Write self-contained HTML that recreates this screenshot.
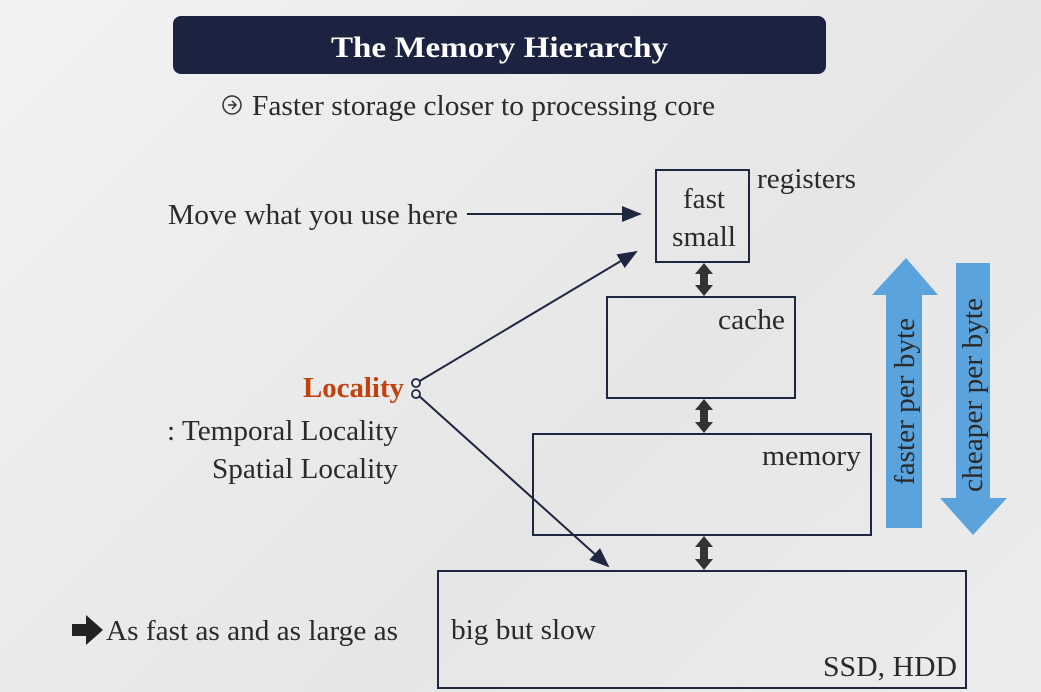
<!DOCTYPE html>
<html><head><style>
body{margin:0;width:1041px;height:692px;overflow:hidden;background:linear-gradient(135deg,#f2f2f2,#e6e6e6 60%,#ececec);}
svg{display:block}
text{font-family:"Liberation Serif","Times New Roman","DejaVu Serif",serif;fill:#2a2a2a}
</style></head><body>
<svg width="1041" height="692" viewBox="0 0 1041 692">
<defs>
<marker id="ah2" markerWidth="20" markerHeight="16" refX="18" refY="8" orient="auto" markerUnits="userSpaceOnUse" viewBox="0 0 20 16"><path d="M0,0 L20,8 L0,16 z" fill="#1e2640"/></marker>
</defs>
<rect x="173" y="16" width="653" height="58" rx="8" fill="#1c2340"/>
<text x="331" y="57" font-size="30" font-weight="bold" textLength="337" lengthAdjust="spacingAndGlyphs" style="fill:#fff">The Memory Hierarchy</text>
<circle cx="232" cy="105" r="9" fill="none" stroke="#333" stroke-width="1.5"/>
<path d="M228,105 h7 M232,101 l4,4 l-4,4" fill="none" stroke="#333" stroke-width="1.5"/>
<text x="252" y="115" font-size="28" textLength="463" lengthAdjust="spacingAndGlyphs">Faster storage closer to processing core</text>

<text x="168" y="224" font-size="28" textLength="290" lengthAdjust="spacingAndGlyphs">Move what you use here</text>
<line x1="467" y1="214" x2="640" y2="214" stroke="#1e2640" stroke-width="2" marker-end="url(#ah2)"/>

<text x="303" y="397" font-size="28" font-weight="bold" textLength="101" lengthAdjust="spacingAndGlyphs" style="fill:#c0420f">Locality</text>
<text x="167" y="440" font-size="28" textLength="231" lengthAdjust="spacingAndGlyphs">: Temporal Locality</text>
<text x="212" y="478" font-size="28" textLength="186" lengthAdjust="spacingAndGlyphs">Spatial Locality</text>
<line x1="418" y1="382" x2="636" y2="252" stroke="#1e2640" stroke-width="2" marker-end="url(#ah2)"/>
<line x1="418" y1="395" x2="608" y2="566" stroke="#1e2640" stroke-width="2" marker-end="url(#ah2)"/>
<circle cx="416" cy="383" r="4" fill="#eee" stroke="#1e2640" stroke-width="1.8"/>
<circle cx="416" cy="394" r="4" fill="#eee" stroke="#1e2640" stroke-width="1.8"/>

<g fill="none" stroke="#1e2640" stroke-width="2">
<rect x="656" y="170" width="93" height="92"/>
<rect x="607" y="297" width="188" height="101"/>
<rect x="533" y="434" width="338" height="101"/>
<rect x="438" y="571" width="528" height="117"/>
</g>
<text x="683" y="208" font-size="28" textLength="42" lengthAdjust="spacingAndGlyphs">fast</text>
<text x="672" y="246" font-size="28" textLength="64" lengthAdjust="spacingAndGlyphs">small</text>
<text x="757" y="188" font-size="28" textLength="99" lengthAdjust="spacingAndGlyphs">registers</text>
<text x="718" y="329" font-size="28" textLength="67" lengthAdjust="spacingAndGlyphs">cache</text>
<text x="762" y="465" font-size="28" textLength="99" lengthAdjust="spacingAndGlyphs">memory</text>
<text x="451" y="639" font-size="28" textLength="145" lengthAdjust="spacingAndGlyphs">big but slow</text>
<text x="823" y="676" font-size="28" textLength="134" lengthAdjust="spacingAndGlyphs">SSD, HDD</text>
<text x="106" y="640" font-size="28" textLength="292" lengthAdjust="spacingAndGlyphs">As fast as and as large as</text>
<path d="M72,624 h14 v-9 l17,15 l-17,15 v-9 h-14 z" fill="#222"/>

<g fill="#333">
<path d="M704,263 l-9,11 h5 v11 h-5 l9,11 l9,-11 h-5 v-11 h5 z"/>
<path d="M704,399 l-9,11 h5 v12 h-5 l9,11 l9,-11 h-5 v-12 h5 z"/>
<path d="M704,536 l-9,11 h5 v12 h-5 l9,11 l9,-11 h-5 v-12 h5 z"/>
</g>

<path d="M906,258 L938,295 L922,295 L922,528 L886,528 L886,295 L872,295 z" fill="#5aa3dc"/>
<path d="M956,263 L990,263 L990,498 L1007,498 L973,535 L940,498 L956,498 z" fill="#5aa3dc"/>
<text transform="translate(914,485) rotate(-90)" font-size="28" textLength="167" lengthAdjust="spacingAndGlyphs">faster per byte</text>
<text transform="translate(982,492) rotate(-90)" font-size="28" textLength="194" lengthAdjust="spacingAndGlyphs">cheaper per byte</text>
</svg>
</body></html>
